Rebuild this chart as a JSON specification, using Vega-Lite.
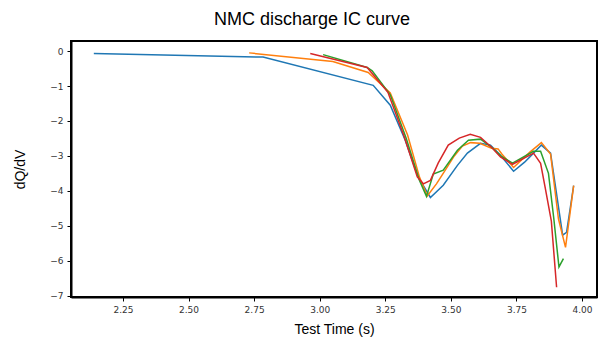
{
  "$schema": "https://vega.github.io/schema/vega-lite/v6.json",
  "width": 526,
  "height": 256,
  "autosize": {"type": "none"},
  "padding": {"left": 71, "top": 41, "right": 6, "bottom": 45},
  "background": "white",
  "title": {"text": "NMC discharge IC curve", "font": "Liberation Sans", "fontSize": 18, "fontWeight": "normal", "color": "#000000", "anchor": "middle", "dx": -22, "offset": 12},
  "config": {
    "view": {"stroke": "#000000", "strokeWidth": 2},
    "axis": {"labelFont": "DejaVu Sans", "labelFontSize": 9, "labelColor": "#333333", "tickColor": "#000000", "domainColor": "#000000", "domainWidth": 2, "tickSize": 4, "grid": false, "titleFont": "Liberation Sans", "titleFontSize": 14, "titleFontWeight": "normal", "titleColor": "#000000"}
  },
  "data": {"values": [
    {"t": 2.139, "v": -0.07, "s": "a"},
    {"t": 2.784, "v": -0.17, "s": "a"},
    {"t": 3.204, "v": -0.98, "s": "a"},
    {"t": 3.269, "v": -1.55, "s": "a"},
    {"t": 3.326, "v": -2.55, "s": "a"},
    {"t": 3.375, "v": -3.6, "s": "a"},
    {"t": 3.422, "v": -4.19, "s": "a"},
    {"t": 3.471, "v": -3.84, "s": "a"},
    {"t": 3.525, "v": -3.27, "s": "a"},
    {"t": 3.563, "v": -2.92, "s": "a"},
    {"t": 3.613, "v": -2.64, "s": "a"},
    {"t": 3.651, "v": -2.69, "s": "a"},
    {"t": 3.689, "v": -2.98, "s": "a"},
    {"t": 3.739, "v": -3.44, "s": "a"},
    {"t": 3.781, "v": -3.18, "s": "a"},
    {"t": 3.815, "v": -2.92, "s": "a"},
    {"t": 3.845, "v": -2.69, "s": "a"},
    {"t": 3.88, "v": -2.92, "s": "a"},
    {"t": 3.926, "v": -5.27, "s": "a"},
    {"t": 3.941, "v": -5.19, "s": "a"},
    {"t": 3.968, "v": -3.85, "s": "a"},

    {"t": 2.731, "v": -0.05, "s": "b"},
    {"t": 3.05, "v": -0.3, "s": "b"},
    {"t": 3.185, "v": -0.61, "s": "b"},
    {"t": 3.269, "v": -1.2, "s": "b"},
    {"t": 3.335, "v": -2.4, "s": "b"},
    {"t": 3.38, "v": -3.6, "s": "b"},
    {"t": 3.41, "v": -4.15, "s": "b"},
    {"t": 3.445, "v": -3.8, "s": "b"},
    {"t": 3.475, "v": -3.45, "s": "b"},
    {"t": 3.513, "v": -3.0, "s": "b"},
    {"t": 3.544, "v": -2.72, "s": "b"},
    {"t": 3.575, "v": -2.62, "s": "b"},
    {"t": 3.61, "v": -2.64, "s": "b"},
    {"t": 3.655, "v": -2.78, "s": "b"},
    {"t": 3.68, "v": -2.8, "s": "b"},
    {"t": 3.695, "v": -2.95, "s": "b"},
    {"t": 3.739, "v": -3.33, "s": "b"},
    {"t": 3.8, "v": -2.9, "s": "b"},
    {"t": 3.845, "v": -2.62, "s": "b"},
    {"t": 3.88, "v": -2.95, "s": "b"},
    {"t": 3.91, "v": -4.8, "s": "b"},
    {"t": 3.937, "v": -5.62, "s": "b"},
    {"t": 3.968, "v": -3.85, "s": "b"},

    {"t": 3.013, "v": -0.1, "s": "c"},
    {"t": 3.181, "v": -0.47, "s": "c"},
    {"t": 3.2, "v": -0.56, "s": "c"},
    {"t": 3.269, "v": -1.25, "s": "c"},
    {"t": 3.33, "v": -2.5, "s": "c"},
    {"t": 3.38, "v": -3.7, "s": "c"},
    {"t": 3.407, "v": -4.16, "s": "c"},
    {"t": 3.433, "v": -3.52, "s": "c"},
    {"t": 3.471, "v": -3.41, "s": "c"},
    {"t": 3.525, "v": -2.84, "s": "c"},
    {"t": 3.567, "v": -2.55, "s": "c"},
    {"t": 3.613, "v": -2.52, "s": "c"},
    {"t": 3.655, "v": -2.75, "s": "c"},
    {"t": 3.69, "v": -3.0, "s": "c"},
    {"t": 3.735, "v": -3.21, "s": "c"},
    {"t": 3.815, "v": -2.87, "s": "c"},
    {"t": 3.842, "v": -2.87, "s": "c"},
    {"t": 3.872, "v": -3.5, "s": "c"},
    {"t": 3.892, "v": -4.77, "s": "c"},
    {"t": 3.912, "v": -6.18, "s": "c"},
    {"t": 3.929, "v": -5.94, "s": "c"},

    {"t": 2.964, "v": -0.07, "s": "d"},
    {"t": 3.181, "v": -0.47, "s": "d"},
    {"t": 3.26, "v": -1.18, "s": "d"},
    {"t": 3.32, "v": -2.4, "s": "d"},
    {"t": 3.372, "v": -3.6, "s": "d"},
    {"t": 3.395, "v": -3.8, "s": "d"},
    {"t": 3.422, "v": -3.7, "s": "d"},
    {"t": 3.452, "v": -3.2, "s": "d"},
    {"t": 3.49, "v": -2.69, "s": "d"},
    {"t": 3.532, "v": -2.49, "s": "d"},
    {"t": 3.574, "v": -2.38, "s": "d"},
    {"t": 3.613, "v": -2.47, "s": "d"},
    {"t": 3.655, "v": -2.75, "s": "d"},
    {"t": 3.689, "v": -3.03, "s": "d"},
    {"t": 3.735, "v": -3.24, "s": "d"},
    {"t": 3.815, "v": -2.92, "s": "d"},
    {"t": 3.842, "v": -3.21, "s": "d"},
    {"t": 3.86, "v": -3.93, "s": "d"},
    {"t": 3.883, "v": -4.87, "s": "d"},
    {"t": 3.903, "v": -6.76, "s": "d"}
  ]},
  "mark": {"type": "line", "strokeWidth": 1.5, "clip": true},
  "encoding": {
    "x": {"field": "t", "type": "quantitative", "sort": null,
      "scale": {"domain": [2.052, 4.057], "nice": false, "zero": false},
      "axis": {"title": "Test Time (s)", "values": [2.25, 2.5, 2.75, 3.0, 3.25, 3.5, 3.75, 4.0], "format": ".2f", "labelPadding": 4, "titlePadding": 8}},
    "y": {"field": "v", "type": "quantitative",
      "scale": {"domain": [-7.04, 0.29], "nice": false, "zero": false},
      "axis": {"title": "dQ/dV", "values": [-7, -6, -5, -4, -3, -2, -1, 0], "labelExpr": "replace(datum.label, '-', '−')", "labelPadding": 4, "titlePadding": 22}},
    "color": {"field": "s", "type": "nominal", "legend": null,
      "scale": {"domain": ["a", "b", "c", "d"], "range": ["#1f77b4", "#ff7f0e", "#2ca02c", "#d62728"]}},
    "order": {"field": "t", "type": "quantitative"}
  }
}
